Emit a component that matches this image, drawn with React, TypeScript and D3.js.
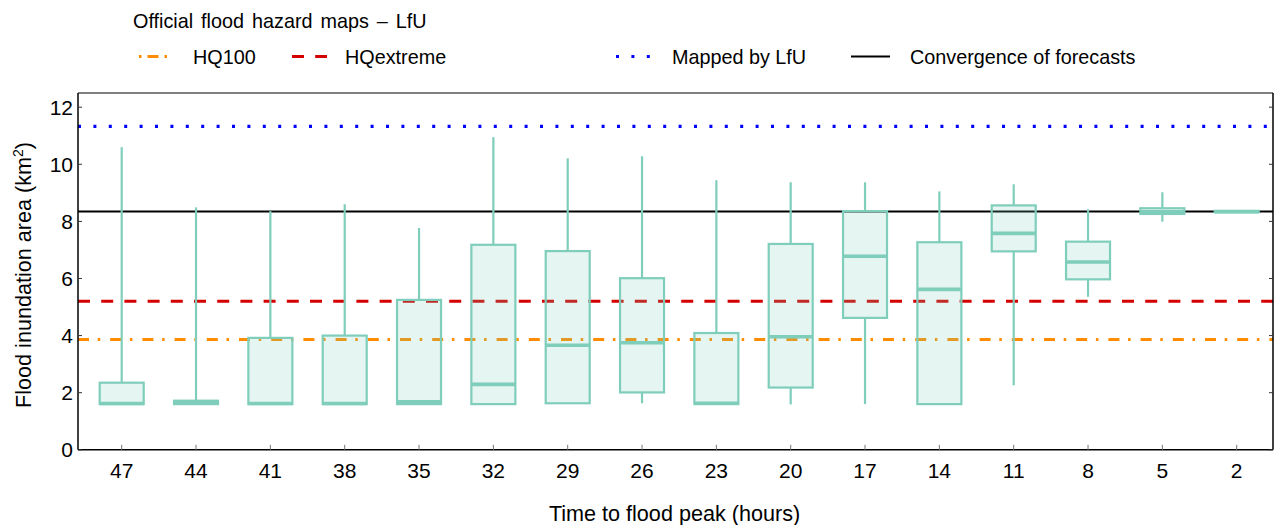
import React from "react";
import * as d3 from "d3";

const categories = ["47", "44", "41", "38", "35", "32", "29", "26", "23", "20", "17", "14", "11", "8", "5", "2"];
const mins = [1.6, 1.6, 1.6, 1.6, 1.6, 1.6, 1.63, 1.63, 1.6, 1.59, 1.6, 1.6, 2.26, 5.36, 7.99, 8.32];
const q1s = [1.6, 1.6, 1.6, 1.6, 1.6, 1.6, 1.63, 2.01, 1.6, 2.18, 4.62, 1.6, 6.95, 5.97, 8.26, 8.32];
const medians = [1.62, 1.66, 1.62, 1.62, 1.68, 2.29, 3.66, 3.75, 1.63, 3.96, 6.78, 5.62, 7.58, 6.58, 8.34, 8.34];
const q3s = [2.35, 1.72, 3.92, 4.0, 5.25, 7.18, 6.96, 6.01, 4.09, 7.21, 8.36, 7.27, 8.56, 7.29, 8.46, 8.37];
const maxs = [10.6, 8.49, 8.36, 8.6, 7.77, 10.95, 10.21, 10.28, 9.44, 9.37, 9.37, 9.05, 9.3, 8.42, 9.02, 8.37];
const yTicks = [0, 2, 4, 6, 8, 10, 12];

const hq100 = 3.86;
const hqExtreme = 5.2;
const mappedLfU = 11.33;
const convergence = 8.35;

const FONT = "'Liberation Sans', Arial, Helvetica, sans-serif";
const TEAL = "#7fcdbb";

export default function App() {
  const left = 78, right = 1273, top = 92.9, bottom = 449.8;
  const x = d3.scaleLinear().domain([0, categories.length - 1]).range([121.7, 1236.7]);
  const y = d3.scaleLinear().domain([0, 12.5]).range([bottom, top]);
  const half = 22;

  const hline = (v: number, color: string, dash: string, w: number) => (
    <line x1={left} x2={right} y1={y(v)} y2={y(v)} stroke={color} strokeWidth={w} strokeDasharray={dash} />
  );

  const legY = 56.5;
  const legFs = 19.8;
  return (
    <svg width={1274} height={525} style={{ position: "absolute", left: 0, top: 0 }} fontFamily={FONT}>
      <rect width={1274} height={525} fill="white" />
      {/* reference lines */}
      {hline(hq100, "#ff8c00", "11,8.7,2.5,10", 3)}
      {hline(hqExtreme, "#d40000", "12,11.2", 3)}
      {hline(convergence, "#000", "", 2)}
      {/* boxes */}
      {categories.map((c, i) => {
        const cx = x(i);
        return (
          <g key={c}>
            <line x1={cx} x2={cx} y1={y(q3s[i])} y2={y(maxs[i])} stroke={TEAL} strokeWidth={2.2} />
            <line x1={cx} x2={cx} y1={y(q1s[i])} y2={y(mins[i])} stroke={TEAL} strokeWidth={2.2} />
            <rect x={cx - half} width={half * 2} y={y(q3s[i])} height={Math.max(0.5, y(q1s[i]) - y(q3s[i]))}
              fill={TEAL} fillOpacity={0.2} stroke={TEAL} strokeWidth={2.2} />
            <line x1={cx - half} x2={cx + half} y1={y(medians[i])} y2={y(medians[i])} stroke={TEAL} strokeWidth={3.6} />
          </g>
        );
      })}
      {hline(mappedLfU, "#0000ff", "3,12.4", 3.2)}
      {/* frame */}
      <line x1={left} x2={right} y1={top} y2={top} stroke="#555" strokeWidth={1.5} />
      <line x1={right} x2={right} y1={top} y2={bottom} stroke="#000" strokeWidth={1.5} />
      <line x1={left} x2={left} y1={top} y2={bottom} stroke="#000" strokeWidth={1.5} />
      <line x1={left} x2={right} y1={bottom} y2={bottom} stroke="#000" strokeWidth={1.5} />
      {/* y ticks */}
      {yTicks.map((t) => (
        <g key={t}>
          <line x1={left} x2={left + 4} y1={y(t)} y2={y(t)} stroke="#333" strokeWidth={1} />
          <line x1={right - 4} x2={right} y1={y(t)} y2={y(t)} stroke="#333" strokeWidth={1} />
          <text x={73} y={y(t)} dy="0.36em" textAnchor="end" fontSize={21} fill="#000">{t}</text>
        </g>
      ))}
      {/* x ticks */}
      {categories.map((c, i) => (
        <g key={c}>
          <line x1={x(i)} x2={x(i)} y1={bottom} y2={bottom - 5} stroke="#777" strokeWidth={1} />
          <text x={x(i)} y={470} dy="0.36em" textAnchor="middle" fontSize={21} fill="#000">{c}</text>
        </g>
      ))}
      {/* axis titles */}
      <text x={674.5} y={513} dy="0.36em" textAnchor="middle" fontSize={21.6} fill="#000">Time to flood peak (hours)</text>
      <text transform={`translate(23,275) rotate(-90)`} dy="0.36em" textAnchor="middle" fontSize={21.6} fill="#000">
        Flood inundation area (km<tspan dy="-8" fontSize={14}>2</tspan><tspan dy="8">)</tspan>
      </text>
      {/* legend */}
      <text x={133} y={21} dy="0.36em" fontSize={legFs} wordSpacing={2.5} fill="#000">Official flood hazard maps – LfU</text>
      <line x1={139} x2={176} y1={legY} y2={legY} stroke="#ff8c00" strokeWidth={3} strokeDasharray="2.5,6,11,6,2.5,20" />
      <text x={193} y={legY} dy="0.36em" fontSize={legFs} fill="#000">HQ100</text>
      <line x1={292} x2={327} y1={legY} y2={legY} stroke="#d40000" strokeWidth={3} strokeDasharray="12,11.2" />
      <text x={345} y={legY} dy="0.36em" fontSize={legFs} fill="#000">HQextreme</text>
      <line x1={616} x2={655} y1={legY} y2={legY} stroke="#0000ff" strokeWidth={3.2} strokeDasharray="3,12.4" />
      <text x={672} y={legY} dy="0.36em" fontSize={legFs} fill="#000">Mapped by LfU</text>
      <line x1={851} x2={890} y1={legY} y2={legY} stroke="#000" strokeWidth={2} />
      <text x={910} y={legY} dy="0.36em" fontSize={legFs} fill="#000">Convergence of forecasts</text>
    </svg>
  );
}
